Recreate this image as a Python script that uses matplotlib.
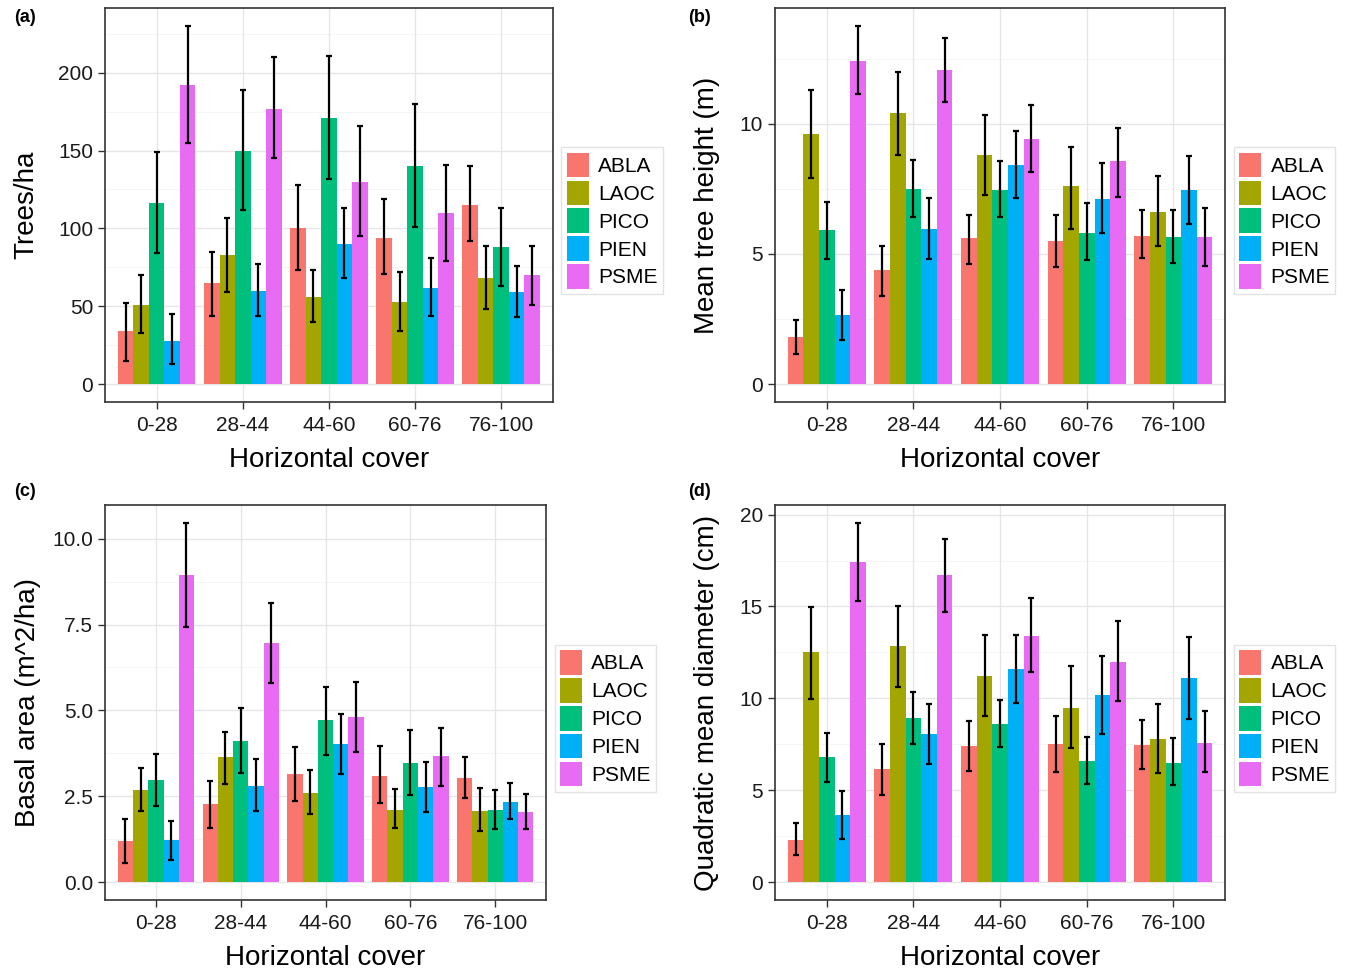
import matplotlib
matplotlib.use("Agg")
import matplotlib.pyplot as plt
import numpy as np

plt.rcParams['font.family'] = ['Liberation Sans', 'DejaVu Sans']

covers = ['0-28', '28-44', '44-60', '60-76', '76-100']
species = ['ABLA', 'LAOC', 'PICO', 'PIEN', 'PSME']
colors = ['#F8766D', '#A3A500', '#00BF7D', '#00B0F6', '#E76BF3']

# rows = species, cols = horizontal cover class
trees_mean = [[34, 65, 100, 94, 115],
              [51, 83, 56, 53, 68],
              [116, 150, 171, 140, 88],
              [28, 60, 90, 62, 59],
              [192, 177, 130, 110, 70]]
trees_lo = [[15, 44, 73, 71, 92],
            [33, 59, 40, 34, 48],
            [84, 112, 132, 101, 63],
            [13, 44, 68, 44, 43],
            [155, 145, 95, 79, 51]]
trees_hi = [[52, 85, 128, 119, 140],
            [70, 107, 73, 72, 89],
            [149, 189, 211, 180, 113],
            [45, 77, 113, 81, 76],
            [230, 210, 166, 141, 89]]

height_mean = [[1.8, 4.4, 5.6, 5.5, 5.7],
               [9.6, 10.4, 8.8, 7.6, 6.6],
               [5.9, 7.5, 7.45, 5.8, 5.65],
               [2.65, 5.95, 8.4, 7.1, 7.45],
               [12.4, 12.05, 9.4, 8.55, 5.65]]
height_lo = [[1.15, 3.4, 4.6, 4.5, 4.85],
             [7.9, 8.8, 7.25, 5.95, 5.3],
             [4.8, 6.4, 6.4, 4.75, 4.65],
             [1.7, 4.8, 7.15, 5.8, 6.15],
             [11.15, 10.85, 8.15, 7.2, 4.55]]
height_hi = [[2.45, 5.3, 6.5, 6.5, 6.7],
             [11.3, 12.0, 10.35, 9.1, 8.0],
             [7.0, 8.6, 8.55, 6.95, 6.7],
             [3.6, 7.15, 9.7, 8.5, 8.75],
             [13.75, 13.3, 10.7, 9.85, 6.75]]

basal_mean = [[1.19, 2.26, 3.14, 3.10, 3.03],
              [2.69, 3.63, 2.60, 2.10, 2.08],
              [2.97, 4.11, 4.71, 3.48, 2.11],
              [1.21, 2.80, 4.02, 2.76, 2.32],
              [8.93, 6.96, 4.81, 3.66, 2.03]]
basal_lo = [[0.55, 1.56, 2.35, 2.29, 2.45],
            [2.07, 2.85, 1.97, 1.56, 1.50],
            [2.22, 3.19, 3.70, 2.53, 1.55],
            [0.65, 2.07, 3.14, 2.04, 1.84],
            [7.44, 5.79, 3.79, 2.80, 1.53]]
basal_hi = [[1.85, 2.95, 3.92, 3.96, 3.63],
            [3.31, 4.38, 3.26, 2.71, 2.74],
            [3.72, 5.07, 5.69, 4.44, 2.69],
            [1.77, 3.58, 4.89, 3.50, 2.87],
            [10.46, 8.14, 5.83, 4.50, 2.55]]

qmd_mean = [[2.30, 6.17, 7.39, 7.53, 7.47],
            [12.50, 12.83, 11.22, 9.46, 7.80],
            [6.81, 8.95, 8.62, 6.61, 6.49],
            [3.63, 8.04, 11.60, 10.18, 11.09],
            [17.42, 16.70, 13.39, 11.98, 7.58]]
qmd_lo = [[1.45, 4.75, 6.06, 5.99, 6.18],
          [9.98, 10.64, 9.02, 7.28, 5.91],
          [5.46, 7.53, 7.33, 5.34, 5.29],
          [2.36, 6.44, 9.75, 8.04, 8.89],
          [15.30, 14.70, 11.42, 9.85, 5.98]]
qmd_hi = [[3.21, 7.53, 8.78, 9.02, 8.82],
          [14.97, 15.03, 13.47, 11.76, 9.71],
          [8.11, 10.36, 9.93, 7.91, 7.84],
          [4.95, 9.67, 13.47, 12.32, 13.33],
          [19.55, 18.66, 15.46, 14.19, 9.33]]

W, H = 1357, 972
panels = [
    ('(a)', 'Trees/ha', trees_mean, trees_lo, trees_hi, [0, 50, 100, 150, 200], '%d',
     [0.0774, 0.5864, 0.330, 0.4053], (14, 18), -0.147),
    ('(b)', 'Mean tree height (m)', height_mean, height_lo, height_hi, [0, 5, 10], '%d',
     [0.5710, 0.5864, 0.332, 0.4053], (688, 18), -0.122),
    ('(c)', 'Basal area (m^2/ha)', basal_mean, basal_lo, basal_hi, [0, 2.5, 5, 7.5, 10], '%.1f',
     [0.0774, 0.0741, 0.325, 0.4064], (14, 491), -0.145),
    ('(d)', 'Quadratic mean diameter (cm)', qmd_mean, qmd_lo, qmd_hi, [0, 5, 10, 15, 20], '%d',
     [0.5710, 0.0741, 0.332, 0.4064], (688, 491), -0.122),
]

fig = plt.figure(figsize=(W / 100, H / 100), dpi=100)
x = np.arange(len(covers)) + 1
bw = 0.18

for tag, ylab, mean, lo, hi, yt, fmt, pos, tagxy, ylx in panels:
    ax = fig.add_axes(pos)
    mean = np.array(mean)
    lo = np.array(lo)
    hi = np.array(hi)
    top = hi.max()
    ax.set_ylim(-0.05 * top, 1.05 * top)
    ax.set_xlim(0.4, len(covers) + 0.6)

    # grid: major + minor (theme_bw look)
    ax.set_axisbelow(True)
    minor = [(a + b) / 2 for a, b in zip(yt[:-1], yt[1:])]
    minor.append(yt[-1] + (yt[1] - yt[0]) / 2)
    for m in minor:
        ax.axhline(m, color='#F4F4F4', lw=0.6, zorder=0)
    ax.grid(True, color='#E6E6E6', lw=1.0, zorder=0)

    for i, sp in enumerate(species):
        xs = x - 0.36 + i * bw
        ax.bar(xs, mean[i], width=bw, color=colors[i], label=sp, zorder=2)
        ax.errorbar(xs, mean[i], yerr=[mean[i] - lo[i], hi[i] - mean[i]],
                    fmt='none', ecolor='black', elinewidth=1.6, capsize=2.4,
                    capthick=1.6, zorder=3)

    ax.set_xticks(x)
    ax.set_xticklabels(covers)
    ax.set_yticks(yt)
    ax.set_yticklabels([fmt % v for v in yt])
    ax.tick_params(axis='both', labelsize=15, colors='#333333', length=5, width=1.0,
                   labelcolor='#1a1a1a')
    ax.tick_params(axis='x', pad=5)
    for s in ax.spines.values():
        s.set_color('#333333')
        s.set_linewidth(1.2)
    ax.set_xlabel('Horizontal cover', fontsize=20, labelpad=9)
    ax.set_ylabel(ylab, fontsize=20)
    ax.yaxis.set_label_coords(ylx, 0.5)

    leg = ax.legend(loc='center left', bbox_to_anchor=(1.01, 0.46), fontsize=15,
                    frameon=True, handlelength=1.05, handleheight=1.45,
                    labelspacing=0.15, handletextpad=0.45, borderpad=0.25,
                    borderaxespad=0.2, fancybox=False)
    leg.get_frame().set_edgecolor('#DDDDDD')
    leg.get_frame().set_linewidth(1.0)

    fig.text(tagxy[0] / W, 1 - tagxy[1] / H, tag, fontsize=13,
             fontweight='bold', ha='left', va='center')

fig.savefig('out.png', dpi=100)
